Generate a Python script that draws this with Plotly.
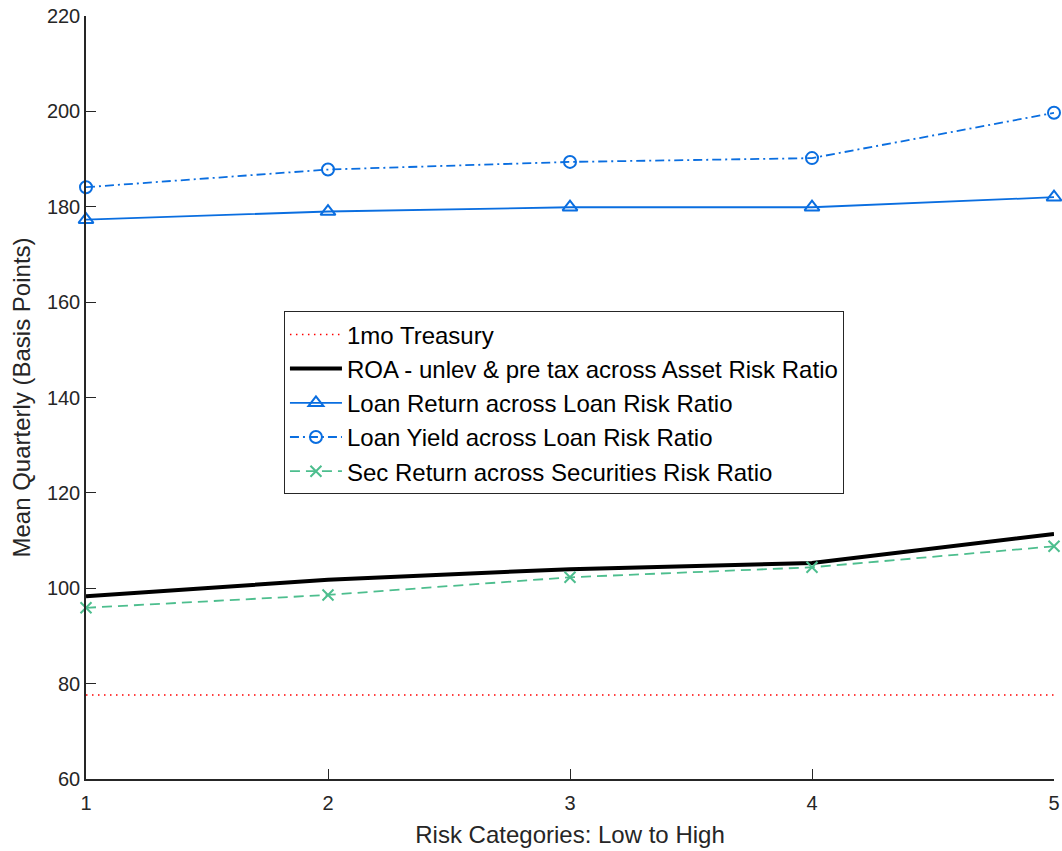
import plotly.graph_objects as go

x_vals = [1, 2, 3, 4, 5]
treasury = [77.6, 77.6, 77.6, 77.6, 77.6]
roa = [98.3, 101.8, 104.0, 105.3, 111.4]
loan_return = [177.3, 179.0, 179.9, 179.9, 182.0]
loan_yield = [184.1, 187.8, 189.4, 190.2, 199.7]
sec_return = [95.9, 98.6, 102.3, 104.4, 108.8]

names = [
    "1mo Treasury",
    "ROA - unlev & pre tax across Asset Risk Ratio",
    "Loan Return across Loan Risk Ratio",
    "Loan Yield across Loan Risk Ratio",
    "Sec Return across Securities Risk Ratio",
]

FONT = "Liberation Sans, Arial, Helvetica, sans-serif"
AX = "#262626"
BLUE = "#0a6ee0"
GREEN = "#4dbe8e"

fig = go.Figure()
fig.add_trace(go.Scatter(x=x_vals, y=treasury, name=names[0], mode="lines",
                         line=dict(color="#ff0000", width=1.5, dash="1.5px,4.5px")))
fig.add_trace(go.Scatter(x=x_vals, y=roa, name=names[1], mode="lines",
                         line=dict(color="#000000", width=4)))
fig.add_trace(go.Scatter(x=x_vals, y=loan_return, name=names[2], mode="lines+markers",
                         line=dict(color=BLUE, width=1.8),
                         marker=dict(symbol="triangle-up-open", size=13,
                                     line=dict(color=BLUE, width=2)),
                         cliponaxis=False))
fig.add_trace(go.Scatter(x=x_vals, y=loan_yield, name=names[3], mode="lines+markers",
                         line=dict(color=BLUE, width=1.8, dash="9px,4px,2px,4px"),
                         marker=dict(symbol="circle-open", size=12,
                                     line=dict(color=BLUE, width=2)),
                         cliponaxis=False))
fig.add_trace(go.Scatter(x=x_vals, y=sec_return, name=names[4], mode="lines+markers",
                         line=dict(color=GREEN, width=1.8, dash="10px,6px"),
                         marker=dict(symbol="x-thin-open", size=11,
                                     line=dict(color=GREEN, width=2)),
                         cliponaxis=False))

fig.update_layout(
    width=1062, height=851,
    margin=dict(l=86, r=8, t=16, b=72),
    paper_bgcolor="white", plot_bgcolor="white",
    font=dict(family=FONT, color=AX, size=20),
    showlegend=True,
    legend=dict(x=0.2045, y=0.613, xanchor="left", yanchor="top",
                bgcolor="white", bordercolor=AX, borderwidth=1,
                font=dict(family=FONT, size=24, color="#000000"),
                tracegroupgap=0, itemwidth=52),
    xaxis=dict(range=[1, 5], tickvals=[1, 2, 3, 4, 5], ticktext=["1", "2", "3", "4", "5"],
               automargin=False,
               showgrid=False, zeroline=False, showline=True, linecolor=AX, linewidth=1.5,
               ticks="inside", ticklen=10, tickcolor=AX, tickwidth=1,
               ticklabelstandoff=5,
               tickfont=dict(size=20, color=AX),
               title=dict(text="Risk Categories: Low to High", font=dict(size=24, color=AX),
                          standoff=13)),
    yaxis=dict(range=[60, 220], tickvals=[60, 80, 100, 120, 140, 160, 180, 200, 220],
               automargin=False,
               showgrid=False, zeroline=False, showline=True, linecolor=AX, linewidth=1.5,
               ticks="inside", ticklen=10, tickcolor=AX, tickwidth=1,
               ticklabelstandoff=0,
               tickfont=dict(size=20, color=AX),
               title=dict(text="Mean Quarterly (Basis Points)", font=dict(size=24, color=AX),
                          standoff=9)),
)

fig.write_html(
    "out.html",
    config={"displayModeBar": False},
    post_script="document.body.style.margin='0';document.body.style.overflow='hidden';",
)
